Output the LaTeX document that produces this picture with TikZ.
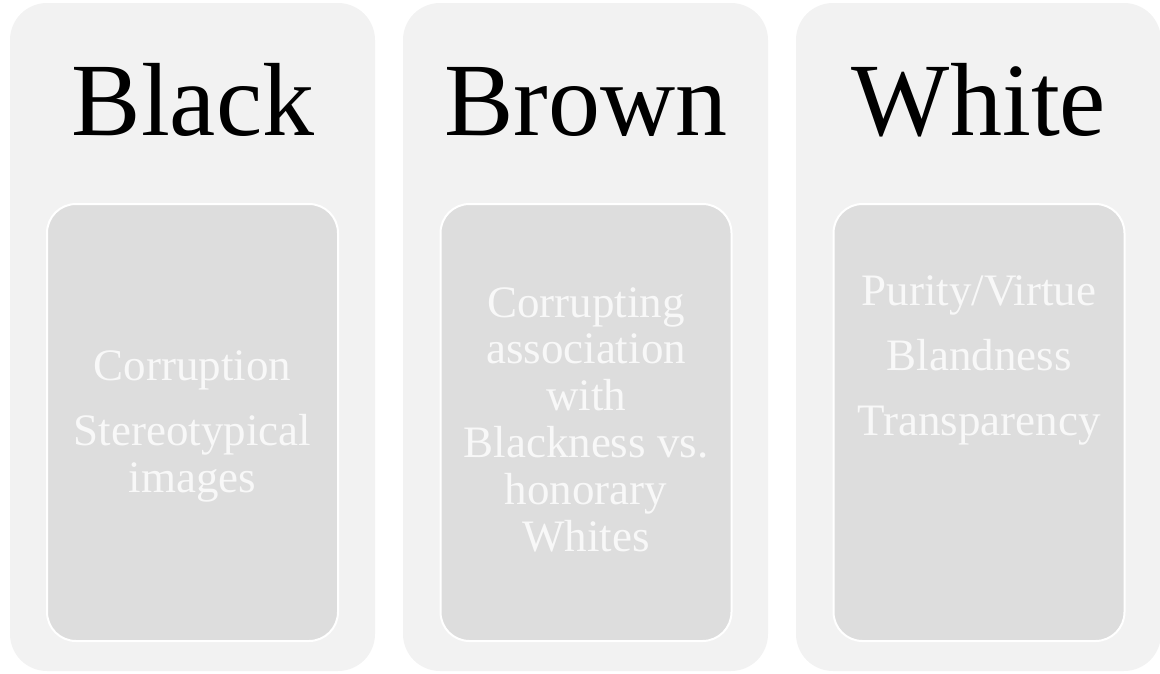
\documentclass[tikz,border=0pt]{standalone}
\usepackage{fontspec}
\setmainfont{Liberation Serif}
\definecolor{columnfill}{HTML}{F2F2F2}
\definecolor{cardfill}{HTML}{DDDDDD}
\definecolor{cardtext}{HTML}{F8F8F8}
\tikzset{
  column/.style={fill=columnfill, rounded corners=37pt, inner sep=0pt,
    minimum width=365pt, minimum height=668pt},
  card/.style={fill=cardfill, draw=white, line width=2pt, rounded corners=29pt,
    inner sep=0pt, minimum width=291pt, minimum height=437pt},
  heading/.style={font=\fontsize{104}{110}\selectfont, anchor=base, inner sep=0pt},
  % base anchor of a multi-line label sits on its last line
  cardlabel/.style={font=\fontsize{45}{46.8}\selectfont, text=cardtext,
    align=center, anchor=base, inner sep=0pt}
}
\begin{document}
\begin{tikzpicture}[x=1pt,y=-1pt]
\useasboundingbox (0,0) rectangle (1160,673);

% three columns
\node[column] (colA) at (192.5,337) {};
\node[column] (colB) at (585.5,337) {};
\node[column] (colC) at (978.5,337) {};

% inner cards
\node[card] (cardA) at (192.5,422.5) {};
\node[card] (cardB) at (586,422.5) {};
\node[card] (cardC) at (979,422.5) {};

% column headings
\node[heading] (headA) at (193,135) {Black};
\node[heading] (headB) at (586,135) {Brown};
\node[heading] (headC) at (979,135) {White};

% card contents
\node[cardlabel] (textA) at (192.5,492) {Corruption\\[18pt]Stereotypical\\images};
\node[cardlabel] (textB) at (586,551) {Corrupting\\association\\with\\Blackness vs.\\honorary\\Whites};
\node[cardlabel] (textC) at (979,435) {Purity/Virtue\\[18pt]Blandness\\[18pt]Transparency};
\end{tikzpicture}
\end{document}
